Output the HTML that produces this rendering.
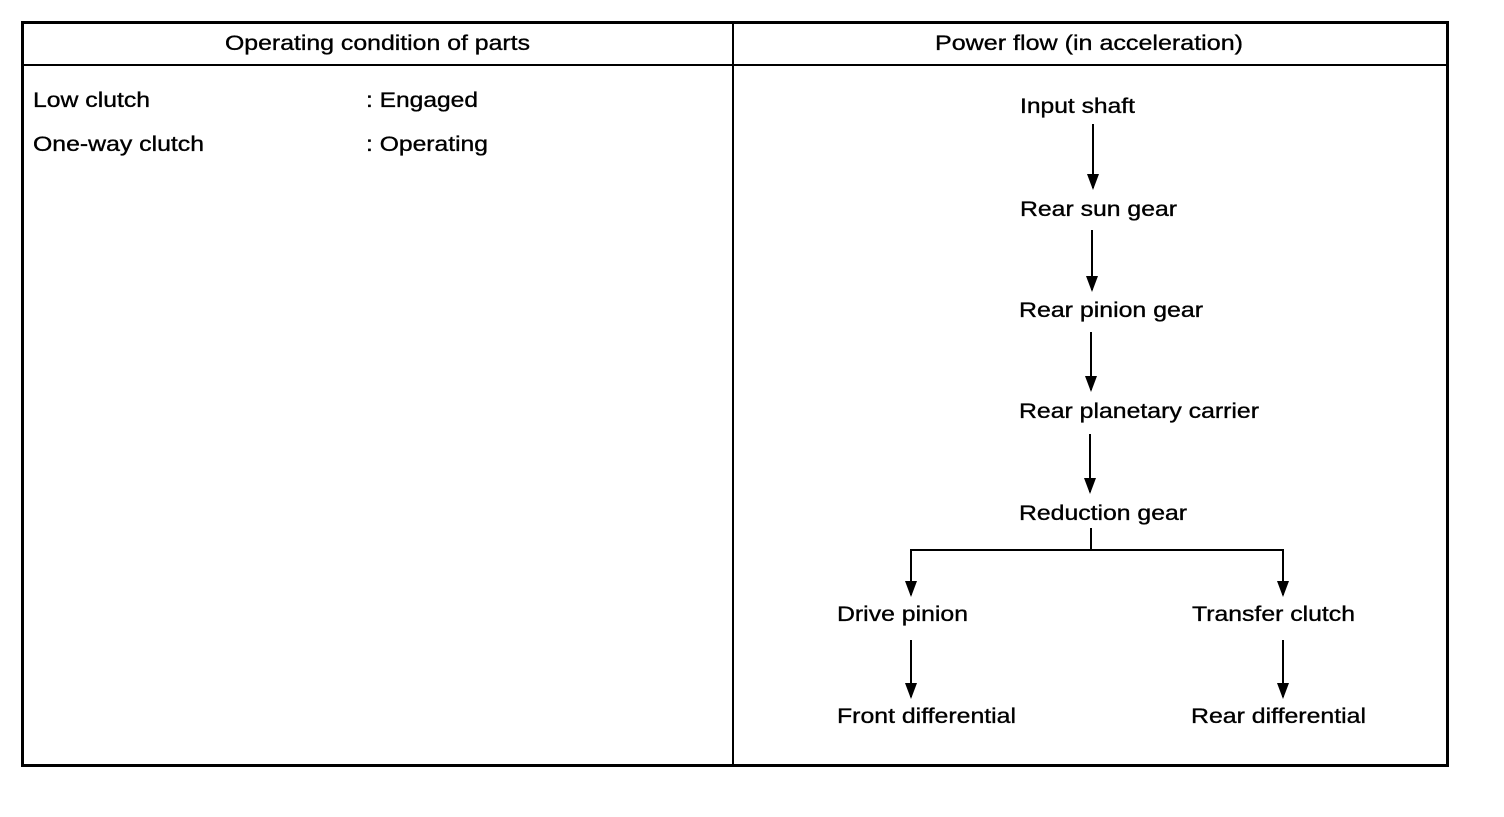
<!DOCTYPE html>
<html><head><style>
body{margin:0;background:#fff;}
svg text{font-family:"Liberation Sans",Arial,sans-serif;font-size:21px;fill:#000;stroke:#000;stroke-width:0.35px;}
</style></head><body>
<svg width="1504" height="812" xmlns="http://www.w3.org/2000/svg">
<rect x="22.5" y="22.5" width="1425" height="743" fill="none" stroke="#000" stroke-width="3"/>
<line x1="22" y1="65" x2="1447" y2="65" stroke="#000" stroke-width="2"/>
<line x1="733" y1="22" x2="733" y2="766" stroke="#000" stroke-width="2"/>
<text x="225" y="50" textLength="305" lengthAdjust="spacingAndGlyphs">Operating condition of parts</text>
<text x="935" y="50" textLength="308" lengthAdjust="spacingAndGlyphs">Power flow (in acceleration)</text>
<text x="33" y="107" textLength="117" lengthAdjust="spacingAndGlyphs">Low clutch</text>
<text x="366" y="107" textLength="112" lengthAdjust="spacingAndGlyphs">: Engaged</text>
<text x="33" y="151" textLength="171" lengthAdjust="spacingAndGlyphs">One-way clutch</text>
<text x="366" y="151" textLength="122" lengthAdjust="spacingAndGlyphs">: Operating</text>
<g stroke="#000" stroke-width="2" fill="none">
<line x1="1093" y1="124" x2="1093" y2="188"/>
<path d="M1087,174 L1093,190 L1099,174z" fill="#000" stroke="none"/>
<line x1="1092" y1="230" x2="1092" y2="290"/>
<path d="M1086,276 L1092,292 L1098,276z" fill="#000" stroke="none"/>
<line x1="1091" y1="332" x2="1091" y2="390"/>
<path d="M1085,376 L1091,392 L1097,376z" fill="#000" stroke="none"/>
<line x1="1090" y1="434" x2="1090" y2="492"/>
<path d="M1084,478 L1090,494 L1096,478z" fill="#000" stroke="none"/>
<line x1="1091" y1="528" x2="1091" y2="550"/>
<line x1="910" y1="550" x2="1284" y2="550"/>
<line x1="911" y1="550" x2="911" y2="595"/>
<path d="M905,581 L911,597 L917,581z" fill="#000" stroke="none"/>
<line x1="1283" y1="550" x2="1283" y2="595"/>
<path d="M1277,581 L1283,597 L1289,581z" fill="#000" stroke="none"/>
<line x1="911" y1="640" x2="911" y2="697"/>
<path d="M905,683 L911,699 L917,683z" fill="#000" stroke="none"/>
<line x1="1283" y1="640" x2="1283" y2="697"/>
<path d="M1277,683 L1283,699 L1289,683z" fill="#000" stroke="none"/>
</g>
<text x="1020" y="113" textLength="115" lengthAdjust="spacingAndGlyphs">Input shaft</text>
<text x="1020" y="216" textLength="157" lengthAdjust="spacingAndGlyphs">Rear sun gear</text>
<text x="1019" y="317" textLength="184" lengthAdjust="spacingAndGlyphs">Rear pinion gear</text>
<text x="1019" y="418" textLength="240" lengthAdjust="spacingAndGlyphs">Rear planetary carrier</text>
<text x="1019" y="520" textLength="168" lengthAdjust="spacingAndGlyphs">Reduction gear</text>
<text x="837" y="621" textLength="131" lengthAdjust="spacingAndGlyphs">Drive pinion</text>
<text x="1192" y="621" textLength="163" lengthAdjust="spacingAndGlyphs">Transfer clutch</text>
<text x="837" y="723" textLength="179" lengthAdjust="spacingAndGlyphs">Front differential</text>
<text x="1191" y="723" textLength="175" lengthAdjust="spacingAndGlyphs">Rear differential</text>
</svg>
</body></html>
